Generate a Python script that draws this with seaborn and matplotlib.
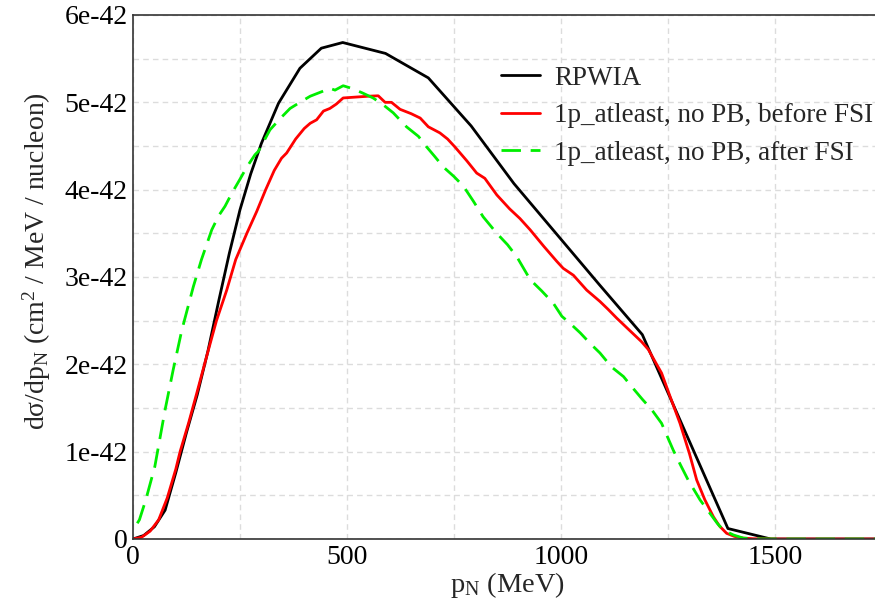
import matplotlib
matplotlib.use("Agg")
import matplotlib.pyplot as plt
import seaborn as sns
import pandas as pd
from matplotlib.ticker import MultipleLocator, FuncFormatter

# ---- data (y in units of 1e-42 cm^2/MeV/nucleon) ----
rpwia_x = [0, 25, 50, 75, 100, 125, 150, 175, 200, 225, 250, 275, 300, 340, 390, 440, 490,
           590, 690, 790, 890, 990, 1090, 1190, 1390, 1490, 1750]
rpwia_y = [0, 0.04, 0.14, 0.33, 0.76, 1.22, 1.65, 2.15, 2.72, 3.27, 3.77, 4.18, 4.53, 4.99,
           5.39, 5.62, 5.685, 5.56, 5.28, 4.73, 4.07, 3.49, 2.91, 2.34, 0.12, 0.0, 0.0]

before_x = [0, 20, 40, 60, 80, 100, 110, 130, 149, 172, 195, 219, 240, 266, 289, 310, 330, 347,
            359, 380, 400, 414, 429, 445, 460, 475, 491, 520, 550, 573, 589, 604, 624, 650, 671,
            690, 717, 735, 752, 780, 803, 822, 850, 880, 904, 928, 960, 990, 1005, 1029, 1060,
            1091, 1110, 1130, 1160, 1188, 1204, 1220, 1235, 1255, 1278, 1300, 1317, 1336, 1356,
            1370, 1387, 1405, 1426, 1450, 1500, 1750]
before_y = [0, 0.02, 0.09, 0.22, 0.47, 0.8, 1.0, 1.33, 1.67, 2.09, 2.5, 2.85, 3.2, 3.5, 3.75,
            4.0, 4.22, 4.36, 4.42, 4.58, 4.7, 4.76, 4.80, 4.9, 4.93, 4.98, 5.05, 5.06, 5.07,
            5.075, 5.0, 5.0, 4.92, 4.87, 4.82, 4.72, 4.65, 4.58, 4.49, 4.33, 4.19, 4.13, 3.94,
            3.78, 3.67, 3.54, 3.35, 3.18, 3.10, 3.02, 2.85, 2.72, 2.63, 2.53, 2.39, 2.26, 2.17,
            2.03, 1.90, 1.63, 1.325, 0.98, 0.676, 0.45, 0.255, 0.15, 0.065, 0.03, 0.01, 0.003,
            0, 0]

after_x = [10, 15, 30, 51, 75, 94, 114, 141, 160, 184, 200, 215, 231, 250, 266, 285, 293, 320,
           345, 367, 390, 414, 440, 460, 472, 491, 511, 535, 561, 585, 608, 639, 667, 686, 705,
           725, 750, 772, 795, 818, 850, 875, 897, 928, 955, 982, 1002, 1021, 1045, 1068, 1091,
           1118, 1146, 1165, 1190, 1212, 1235, 1262, 1280, 1297, 1325, 1348, 1365, 1379, 1403,
           1426, 1460, 1500, 1750]
after_y = [0.18, 0.22, 0.45, 0.83, 1.48, 1.94, 2.39, 2.89, 3.2, 3.54, 3.7, 3.81, 3.96, 4.12,
           4.26, 4.40, 4.44, 4.685, 4.82, 4.93, 5.0, 5.07, 5.12, 5.16, 5.14, 5.19, 5.16, 5.11,
           5.05, 4.97, 4.88, 4.72, 4.61, 4.49, 4.38, 4.26, 4.15, 4.04, 3.87, 3.69, 3.50, 3.37,
           3.23, 2.97, 2.84, 2.70, 2.55, 2.47, 2.36, 2.24, 2.13, 1.97, 1.86, 1.745, 1.6, 1.48,
           1.325, 1.02, 0.84, 0.676, 0.447, 0.294, 0.18, 0.103, 0.046, 0.01, 0.002, 0, 0]

labels = ["RPWIA", "1p_atleast, no PB, before FSI", "1p_atleast, no PB, after FSI"]
colors = ["#000000", "#ff0000", "#00ee00"]
scale = 1e-42

frames = []
for lab, xs, ys in zip(labels, [rpwia_x, before_x, after_x], [rpwia_y, before_y, after_y]):
    frames.append(pd.DataFrame({"p": xs, "xs": [v * scale for v in ys], "series": lab}))
df = pd.concat(frames, ignore_index=True)

sns.set_theme(style="white")
plt.rcParams["font.family"] = ["Liberation Serif", "DejaVu Serif"]
plt.rcParams["mathtext.fontset"] = "custom"
plt.rcParams["mathtext.rm"] = "Liberation Serif"
plt.rcParams["mathtext.it"] = "Liberation Serif:italic"

fig = plt.figure(figsize=(8.75, 6.11), dpi=100)
ax = fig.add_axes([133 / 875, 1 - 539 / 611, 749 / 875, 524 / 611])

sns.lineplot(data=df, x="p", y="xs", hue="series", style="series",
             palette=dict(zip(labels, colors)),
             dashes={labels[0]: "", labels[1]: "", labels[2]: (7, 3.5)},
             hue_order=labels, style_order=labels,
             linewidth=2.0, ax=ax, sort=False, estimator=None)

ax.set_xlim(0, 1750)
ax.set_ylim(0, 6e-42)
ax.xaxis.set_major_locator(MultipleLocator(500))
ax.xaxis.set_minor_locator(MultipleLocator(250))
ax.yaxis.set_major_locator(MultipleLocator(1e-42))
ax.yaxis.set_minor_locator(MultipleLocator(0.5e-42))


def yfmt(v, pos):
    k = int(round(v / 1e-42))
    return "0" if k == 0 else f"{k}e-42"


ax.yaxis.set_major_formatter(FuncFormatter(yfmt))
ax.grid(True, which="both", color="#dcdcdc", linestyle=(0, (4, 3)), linewidth=1.0)
ax.set_axisbelow(True)
ax.tick_params(axis="both", which="both", length=0, labelsize=20, pad=4, colors="black")

for s in ax.spines.values():
    s.set_color("#333333")
    s.set_linewidth(1.2)

ax.set_xlabel(r"p$_\mathregular{N}$ (MeV)", fontsize=20.5, labelpad=0)
ax.set_ylabel(r"d$\mathregular{\sigma}$/dp$_\mathregular{N}$ (cm$^\mathregular{2}$ / MeV / nucleon)",
              fontsize=20)
ax.yaxis.set_label_coords(-0.107, 0.531)

handles, labs = ax.get_legend_handles_labels()
ax.legend(handles, labs, loc="upper left", bbox_to_anchor=(0.477, 0.924), frameon=False,
          fontsize=19.5, handlelength=1.45, handletextpad=0.52, labelspacing=0.46,
          borderaxespad=0)

fig.savefig("out.png", dpi=100)
